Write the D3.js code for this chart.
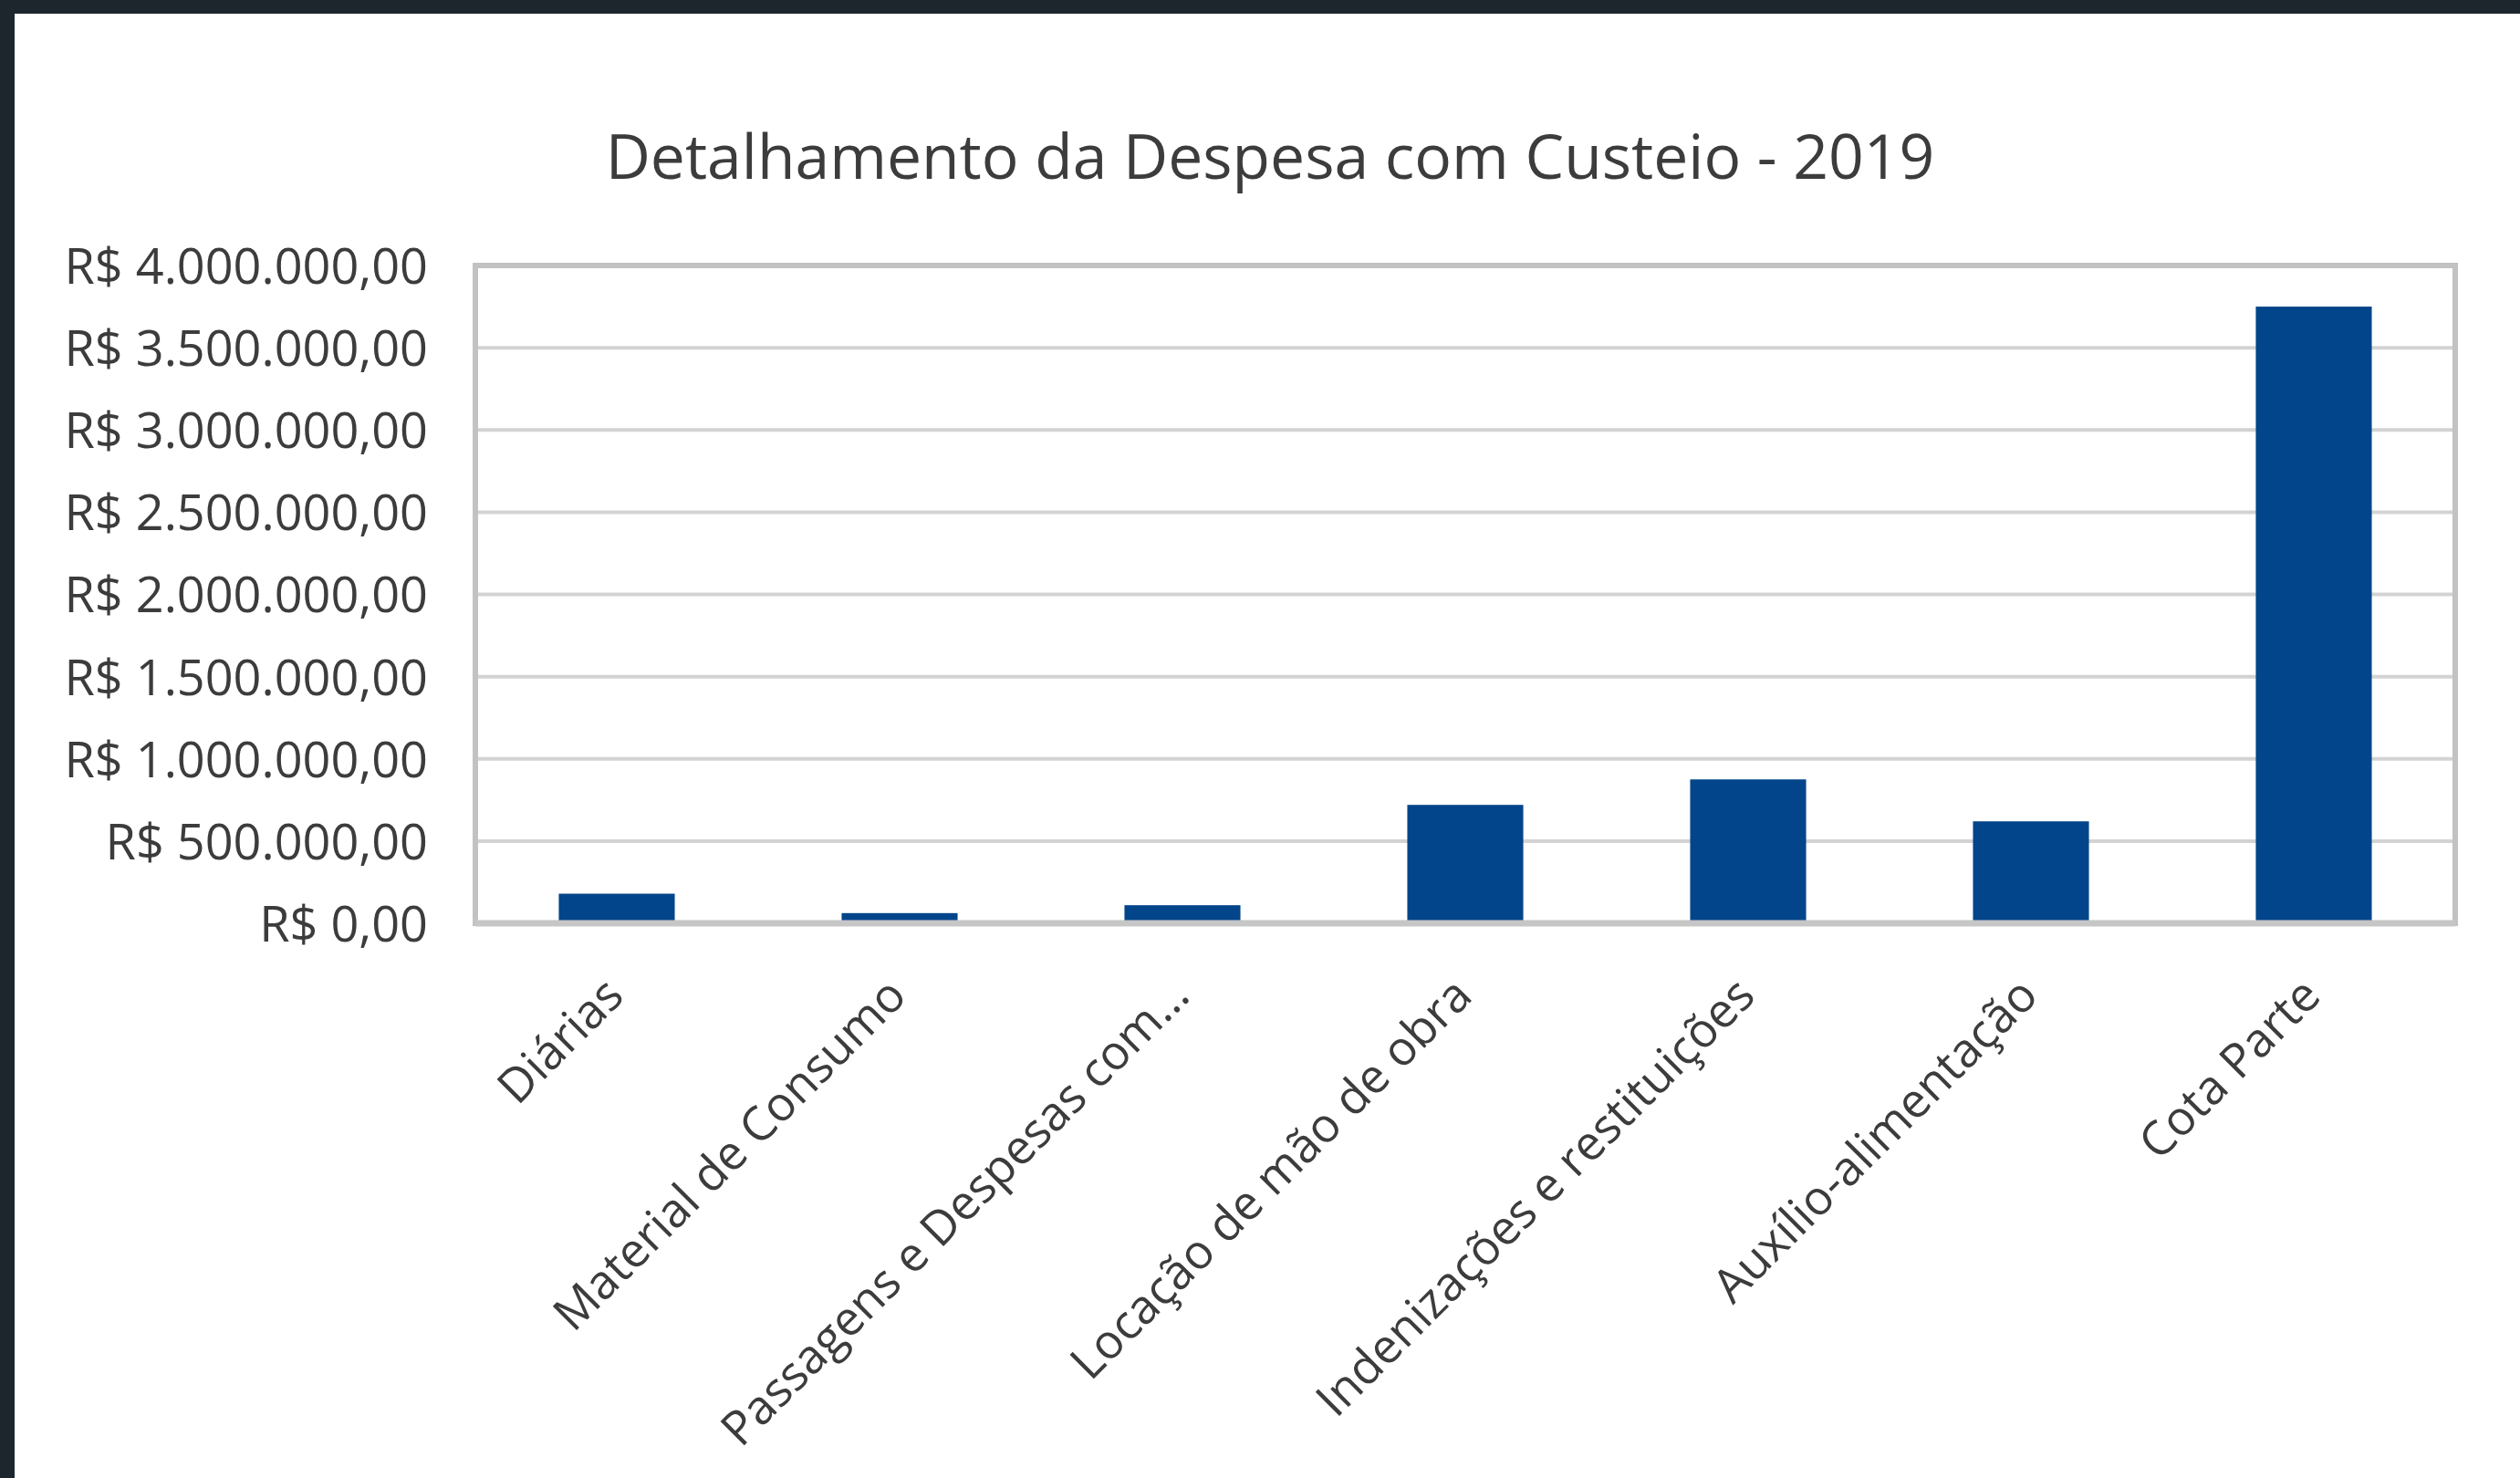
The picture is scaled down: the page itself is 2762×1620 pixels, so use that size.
<!DOCTYPE html>
<html>
<head>
<meta charset="utf-8">
<script src="https://cdn.jsdelivr.net/npm/d3@7"></script>
<style>
  html, body { margin: 0; padding: 0; background: #ffffff; }
  svg { display: block; }
</style>
</head>
<body>
<svg id="chart" width="2762" height="1620"></svg>
<script>
// Despesa com custeio, 2019 (R$)
const categories = [
  "Diárias",
  "Material de Consumo",
  "Passagens e Despesas com…",
  "Locação de mão de obra",
  "Indenizações e restituições",
  "Auxílio-alimentação",
  "Cota Parte"
];
const values = [180000, 62000, 110000, 720000, 875000, 620000, 3750000];
const yTicks = [0, 500000, 1000000, 1500000, 2000000, 2500000, 3000000, 3500000, 4000000];
const title = "Detalhamento da Despesa com Custeio - 2019";

const W = 2762, H = 1620;
const plot = { left: 521, right: 2691, top: 291, bottom: 1012 };
const FONT = "'Open Sans', 'Noto Sans', sans-serif";
const TEXT = "#3c3c3c";
const TICK_SIZE = 54;
const CAT_SIZE = 52;

const brl = d3.formatLocale({
  decimal: ",", thousands: ".", grouping: [3], currency: ["R$ ", ""]
}).format("$,.2f");

const svg = d3.select("#chart");

// dark frame along the top and left edges
svg.append("rect").attr("x", 0).attr("y", 0).attr("width", W).attr("height", H).attr("fill", "#1e262d");
svg.append("rect").attr("x", 16).attr("y", 15).attr("width", W - 16).attr("height", H - 15).attr("fill", "#ffffff");

const x = d3.scaleBand()
  .domain(categories)
  .range([plot.left, plot.right])
  .paddingInner(0.59)
  .paddingOuter(0.295);

const y = d3.scaleLinear()
  .domain([0, 4000000])
  .range([plot.bottom, plot.top]);

// horizontal gridlines
svg.append("g")
  .selectAll("line")
  .data(yTicks.filter(t => t > 0 && t < 4000000))
  .join("line")
  .attr("x1", plot.left).attr("x2", plot.right)
  .attr("y1", d => y(d)).attr("y2", d => y(d))
  .attr("stroke", "#d3d3d3")
  .attr("stroke-width", 4);

// plot area border
svg.append("rect")
  .attr("x", plot.left).attr("y", plot.top)
  .attr("width", plot.right - plot.left)
  .attr("height", plot.bottom - plot.top)
  .attr("fill", "none")
  .attr("stroke", "#c2c2c2")
  .attr("stroke-width", 6);

// bars
svg.append("g")
  .selectAll("rect")
  .data(categories.map((c, i) => ({ c, v: values[i] })))
  .join("rect")
  .attr("x", d => x(d.c))
  .attr("width", x.bandwidth())
  .attr("y", d => y(d.v))
  .attr("height", d => y(0) - y(d.v))
  .attr("fill", "#03458a");

// category axis line
svg.append("line")
  .attr("x1", plot.left).attr("x2", plot.right)
  .attr("y1", y(0)).attr("y2", y(0))
  .attr("stroke", "#c6c6c6")
  .attr("stroke-width", 7);

// value axis labels
const yAxis = d3.axisLeft(y)
  .tickValues(yTicks)
  .tickFormat(brl)
  .tickSize(0)
  .tickPadding(0);
const yg = svg.append("g")
  .attr("transform", `translate(${469},0)`)
  .call(yAxis);
yg.select(".domain").remove();
yg.selectAll("text")
  .attr("font-family", FONT)
  .attr("font-size", TICK_SIZE)
  .attr("fill", TEXT)
  .attr("dy", "0.36em");

// category labels, rotated
const xAxis = d3.axisBottom(x).tickSize(0).tickPadding(0);
const xg = svg.append("g")
  .attr("transform", `translate(0,${y(0)})`)
  .call(xAxis);
xg.select(".domain").remove();
xg.selectAll("text")
  .attr("font-family", FONT)
  .attr("font-size", CAT_SIZE)
  .attr("fill", TEXT)
  .attr("text-anchor", "end")
  .attr("dy", 0)
  .attr("y", 0)
  .attr("transform", "translate(10,82) rotate(-45)");

// title, sized to its measured width
const t = svg.append("text")
  .attr("x", 1392)
  .attr("y", 196)
  .attr("text-anchor", "middle")
  .attr("font-family", FONT)
  .attr("font-size", 66)
  .attr("fill", TEXT)
  .text(title);
const tw = t.node().getComputedTextLength();
t.attr("font-size", 66 * 1457 / tw);
</script>
</body>
</html>
